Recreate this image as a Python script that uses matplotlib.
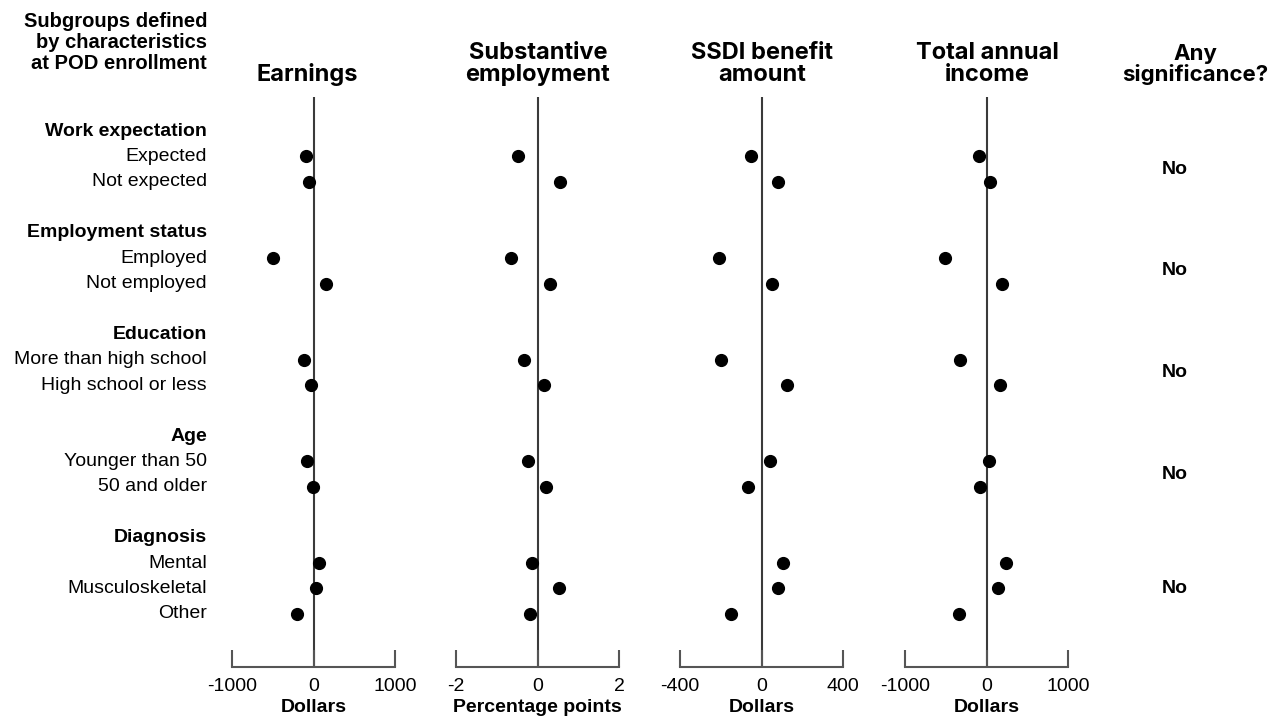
import matplotlib
matplotlib.use("Agg")
import matplotlib.pyplot as plt
from matplotlib.transforms import blended_transform_factory

plt.rcParams["font.family"] = ["Liberation Sans", "DejaVu Sans"]
plt.rcParams["axes.unicode_minus"] = False

# subgroup structure
groups = ["Work expectation", "Employment status", "Education", "Age", "Diagnosis"]
subgroups = [
    ["Expected", "Not expected"],
    ["Employed", "Not employed"],
    ["More than high school", "High school or less"],
    ["Younger than 50", "50 and older"],
    ["Mental", "Musculoskeletal", "Other"],
]
significance = ["No", "No", "No", "No", "No"]

# impact estimates, one value per subgroup (in the order above)
earnings = [-90, -50, -500, 150, -120, -25, -75, -12, 70, 28, -205]
substantive = [-0.48, 0.55, -0.66, 0.30, -0.34, 0.15, -0.23, 0.21, -0.13, 0.52, -0.18]
ssdi = [-52, 83, -208, 50, -198, 123, 42, -66, 105, 83, -151]
income = [-90, 40, -515, 190, -327, 160, 25, -74, 237, 139, -340]

panel_titles = ["Earnings", "Substantive\nemployment", "SSDI benefit\namount", "Total annual\nincome"]
units = ["Dollars", "Percentage points", "Dollars", "Dollars"]
limits = [1000, 2, 400, 1000]
series = [earnings, substantive, ssdi, income]

# row layout: header row, item rows, blank row
header_rows, item_rows = [], []
r = 0
for subs in subgroups:
    header_rows.append(r)
    item_rows.append([r + 1 + i for i in range(len(subs))])
    r += len(subs) + 2
all_item_rows = [y for rows in item_rows for y in rows]

W, H = 1270, 728
fig = plt.figure(figsize=(W / 100, H / 100), dpi=100)

lefts = [232, 456, 680, 905]
ax_w = 163
ax_bottom, ax_top = 667, 97
title_x = [307, 538, 762, 987]
title_font = dict(fontweight="bold", family=["Inter", "DejaVu Sans"], linespacing=1.0)

axes = []
for i, left in enumerate(lefts):
    ax = fig.add_axes([left / W, 1 - ax_bottom / H, ax_w / W, (ax_bottom - ax_top) / H])
    lim = limits[i]
    ax.set_xlim(-lim, lim)
    ax.set_ylim(21.09, -1.34)
    ax.axvline(0, color="#3a3a3a", lw=1.5, zorder=1)
    ax.scatter(series[i], all_item_rows, s=72, color="black", zorder=3, clip_on=False)
    ax.set_xticks([-lim, 0, lim])
    ax.set_xticklabels([str(-lim), "0", str(lim)])
    ax.tick_params(axis="x", direction="in", length=12, width=1.5, color="#555555",
                   labelsize=14, pad=8)
    ax.set_yticks([])
    for side in ["left", "right", "top"]:
        ax.spines[side].set_visible(False)
    ax.spines["bottom"].set_color("#555555")
    ax.spines["bottom"].set_linewidth(1.5)
    ax.set_xlabel(units[i], fontsize=14, fontweight="bold", labelpad=3)
    fig.text(title_x[i] / W, 1 - 81 / H, panel_titles[i], ha="center", va="baseline",
             fontsize=17, **title_font)
    axes.append(ax)

# row labels on the left
trans = blended_transform_factory(fig.transFigure, axes[0].transData)
label_x = 207 / W
for g, subs, hr, rows in zip(groups, subgroups, header_rows, item_rows):
    axes[0].text(label_x, hr, g, transform=trans, ha="right", va="center",
                 fontsize=14, fontweight="bold")
    for s, y in zip(subs, rows):
        axes[0].text(label_x, y, s, transform=trans, ha="right", va="center", fontsize=14)

# significance column
for sig, rows in zip(significance, item_rows):
    axes[0].text(1175 / W, sum(rows) / len(rows), sig, transform=trans, ha="center",
                 va="center", fontsize=14, fontweight="bold")

fig.text(label_x, 1 - 69 / H, "Subgroups defined\nby characteristics\nat POD enrollment",
         ha="right", va="baseline", fontsize=14.5, fontweight="bold", linespacing=1.12)
fig.text(1195 / W, 1 - 81 / H, "Any\nsignificance?", ha="center", va="baseline",
         fontsize=16, **title_font)

fig.savefig("out.png", dpi=100)
